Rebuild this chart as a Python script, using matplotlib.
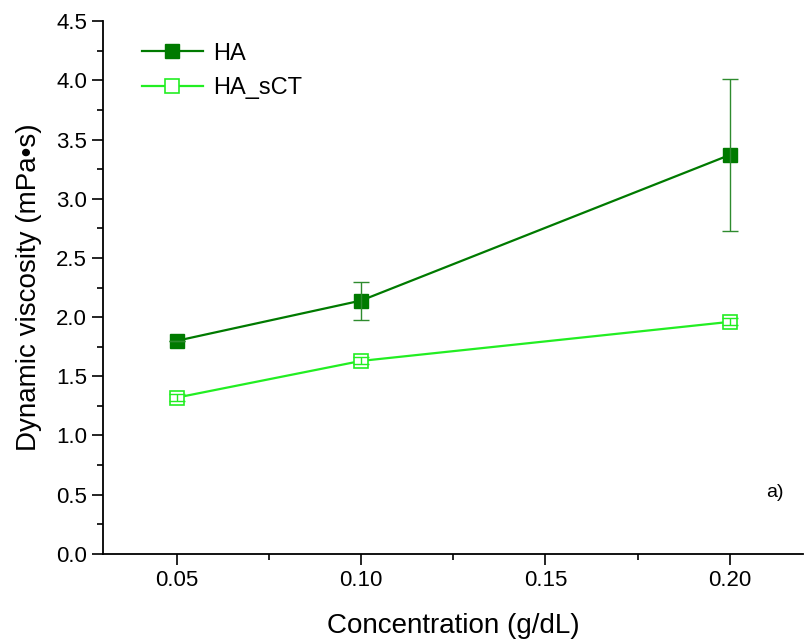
import matplotlib.pyplot as plt
from matplotlib.ticker import MultipleLocator

plt.rcParams['font.family'] = ['Liberation Sans', 'DejaVu Sans']

# concentrations (g/dL) and viscosity (mPa·s)
conc = [0.05, 0.10, 0.20]
ha = [1.80, 2.14, 3.37]
ha_err = [0.0, 0.16, 0.64]
ha_sct = [1.32, 1.63, 1.96]
ha_sct_err = [0.03, 0.03, 0.03]

dark = '#007a00'
light = '#22ee22'

fig = plt.figure(figsize=(8.05, 6.44), dpi=100)
ax = fig.add_axes([0.128, 0.14, 0.87, 0.827])

ax.plot(conc, ha, color=dark, lw=1.6, marker='s', ms=10,
        mfc=dark, mec=dark, label='HA', zorder=3)
ax.plot(conc, ha_sct, color=light, lw=1.6, marker='s', ms=10,
        mfc='white', mec=light, mew=1.2, label='HA_sCT', zorder=3)

# error bars drawn over the markers
ax.errorbar(conc, ha, yerr=ha_err, fmt='none', ecolor='#2e8b2e',
            elinewidth=1.0, capsize=6, capthick=1.0, zorder=4)
ax.errorbar(conc, ha_sct, yerr=ha_sct_err, fmt='none', ecolor=light,
            elinewidth=1.0, capsize=6, capthick=1.0, zorder=4)

ax.set_xlim(0.03, 0.22)
ax.set_ylim(0, 4.5)
ax.xaxis.set_minor_locator(MultipleLocator(0.025))
ax.yaxis.set_minor_locator(MultipleLocator(0.25))
ax.set_xticks([0.05, 0.10, 0.15, 0.20])
ax.set_xticklabels(['0.05', '0.10', '0.15', '0.20'])
ax.set_yticks([i * 0.5 for i in range(10)])
ax.set_yticklabels([f'{i * 0.5:.1f}' for i in range(10)])

for s in ['top', 'right']:
    ax.spines[s].set_visible(False)
for s in ['left', 'bottom']:
    ax.spines[s].set_linewidth(1.3)

ax.tick_params(which='major', direction='out', length=8, width=1.2, labelsize=16)
ax.tick_params(which='minor', direction='out', length=4, width=1.2)

ax.set_xlabel('Concentration (g/dL)', fontsize=20, labelpad=16)
ax.set_ylabel('Dynamic viscosity (mPa•s)', fontsize=20, labelpad=10)

ax.legend(loc='upper left', bbox_to_anchor=(0.025, 1.0), frameon=False,
          fontsize=17, handlelength=2.6, handletextpad=0.4, labelspacing=0.55,
          numpoints=1)

ax.text(0.21, 0.48, 'a)', fontsize=14)

fig.savefig('out.png', dpi=100)
